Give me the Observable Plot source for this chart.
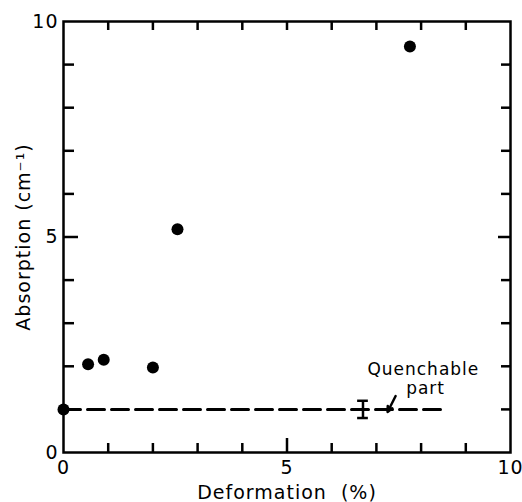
<!DOCTYPE html>
<html>
<head>
<meta charset="utf-8">
<script src="https://cdn.jsdelivr.net/npm/d3@7"></script>
<script src="https://cdn.jsdelivr.net/npm/@observablehq/plot@0.6"></script>
<style>
  html, body { margin: 0; padding: 0; background: #fff; }
</style>
</head>
<body>
<div id="chart"></div>
<script>
// Measured points
const deformation = [0, 0.55, 0.9, 2.0, 2.55, 7.75];
const absorption  = [1.0, 2.05, 2.15, 1.97, 5.18, 9.42];

// Quenchable part (dashed level) and its error bar
const quenchLevel = 1.0;
const quenchX = [0, 8.47];
const errX = 6.7, errLow = 0.8, errHigh = 1.2;

// Annotation arrow (tail -> tip)
const arrowFrom = [7.43, 1.31];
const arrowTo = [7.25, 0.94];

// Tick values
const minorTicks = d3.range(1, 10);
const majorTicks = [5];
const tickLabels = [0, 5, 10];
const xDomain = [0, 10], yDomain = [0, 10];

const W = 522, H = 502, mL = 63, mR = 12, mT = 21, mB = 50;
const plotW = W - mL - mR, plotH = H - mT - mB;
const pxX = (xDomain[1] - xDomain[0]) / plotW;
const pxY = (yDomain[1] - yDomain[0]) / plotH;

const points = deformation.map((d, i) => ({x: d, y: absorption[i]}));
const capHalf = 0.12;

const xTicks = (vals, len, side) => Plot.ruleX(vals, {x: d => d, stroke: "#000", strokeWidth: 2.5,
  y1: side === "bottom" ? yDomain[0] : yDomain[1],
  y2: side === "bottom" ? yDomain[0] + len * pxY : yDomain[1] - len * pxY});
const yTicks = (vals, len, side) => Plot.ruleY(vals, {y: d => d, stroke: "#000", strokeWidth: 2.5,
  x1: side === "left" ? xDomain[0] : xDomain[1],
  x2: side === "left" ? xDomain[0] + len * pxX : xDomain[1] - len * pxX});

const chart = Plot.plot({
  width: W,
  height: H,
  marginLeft: mL,
  marginRight: mR,
  marginTop: mT,
  marginBottom: mB,
  style: {fontFamily: "DejaVu Sans, sans-serif", color: "#000", background: "#fff"},
  x: {domain: xDomain},
  y: {domain: yDomain},
  marks: [
    // tick labels and axis titles
    Plot.axisX({anchor: "bottom", ticks: tickLabels, tickSize: 0, tickPadding: 8, fontSize: 19,
      label: "Deformation  (%)", labelAnchor: "center", labelOffset: 46, labelArrow: "none"}),
    Plot.axisY({anchor: "left", ticks: tickLabels, tickSize: 0, tickPadding: 5, fontSize: 19,
      label: "Absorption (cm⁻¹)", labelAnchor: "center", labelOffset: 47, labelArrow: "none"}),
    Plot.frame({fill: "none", stroke: "#000", strokeWidth: 2.5}),
    // inward ticks on all four sides
    xTicks(minorTicks.filter(d => d !== 5), 9, "bottom"),
    xTicks(majorTicks, 14, "bottom"),
    xTicks(minorTicks, 9, "top"),
    yTicks(minorTicks.filter(d => d !== 5), 11, "left"),
    yTicks(majorTicks, 15, "left"),
    yTicks(minorTicks.filter(d => d !== 5), 9, "right"),
    yTicks(majorTicks, 12, "right"),
    // dashed quenchable level
    Plot.lineY(quenchX.map(x => ({x, y: quenchLevel})), {x: "x", y: "y", strokeWidth: 3, strokeDasharray: "17,7"}),
    // error bar
    Plot.ruleX([errX], {x: d => d, y1: errLow, y2: errHigh, strokeWidth: 2.5}),
    Plot.ruleY([errLow, errHigh], {y: d => d, x1: errX - capHalf, x2: errX + capHalf, strokeWidth: 2.5}),
    // annotation arrow and text
    Plot.arrow([{a: arrowFrom, b: arrowTo}], {x1: d => d.a[0], y1: d => d.a[1], x2: d => d.b[0], y2: d => d.b[1],
      strokeWidth: 2.5, headLength: 7, headAngle: 50}),
    Plot.text(["Quenchable"], {x: 8.05, y: 1.80, text: d => d, fontSize: 17, lineAnchor: "bottom"}),
    Plot.text(["part"], {x: 8.1, y: 1.36, text: d => d, fontSize: 17, lineAnchor: "bottom"}),
    // measured points
    Plot.dot(points, {x: "x", y: "y", r: 6, fill: "#000", clip: false})
  ]
});
d3.select(chart).selectAll("text").style("letter-spacing", "1px");
document.getElementById("chart").appendChild(chart);
</script>
</body>
</html>
